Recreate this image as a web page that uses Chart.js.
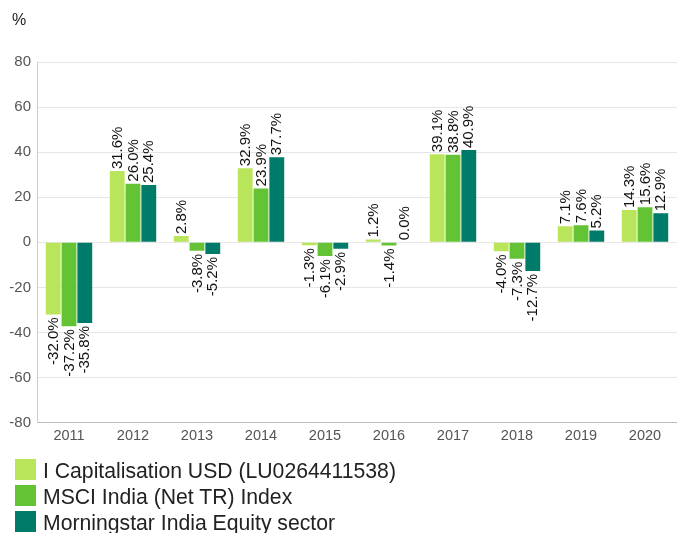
<!DOCTYPE html>
<html>
<head>
<meta charset="utf-8">
<script src="https://cdn.jsdelivr.net/npm/chart.js@4"></script>
<style>
  html, body { margin: 0; padding: 0; background: #fff; }
  #wrap { position: relative; width: 677px; height: 533px; overflow: hidden; }
  #unit { position: absolute; left: 12px; top: 11px; font: 16px "Liberation Sans", Arial, sans-serif; color: #222; }
  #legend { position: absolute; left: 15px; top: 458px; font: 21.2px "Liberation Sans", Arial, sans-serif; color: #222; }
  .row { position: relative; height: 26px; line-height: 26px; white-space: nowrap; }
  .box { position: absolute; left: 0; top: 1px; width: 21px; height: 21px; }
  .txt { position: absolute; left: 28px; top: 0; }
</style>
</head>
<body>
<div id="wrap">
  <canvas id="c" width="677" height="533"></canvas>
  <div id="unit">%</div>
  <div id="legend"></div>
</div>
<script>
const categories = ['2011','2012','2013','2014','2015','2016','2017','2018','2019','2020'];
const seriesNames = ['I Capitalisation USD (LU0264411538)', 'MSCI India (Net TR) Index', 'Morningstar India Equity sector'];
const fundValues = [-32.0, 31.6, 2.8, 32.9, -1.3, 1.2, 39.1, -4.0, 7.1, 14.3];
const indexValues = [-37.2, 26.0, -3.8, 23.9, -6.1, -1.4, 38.8, -7.3, 7.6, 15.6];
const sectorValues = [-35.8, 25.4, -5.2, 37.7, -2.9, 0.0, 40.9, -12.7, 5.2, 12.9];
const yTicks = [-80, -60, -40, -20, 0, 20, 40, 60, 80];

const colors = ['#b9e55b', '#63c334', '#007a69'];
const FONT = '"Liberation Sans", Arial, sans-serif';
Chart.defaults.font.family = FONT;

const valueLabels = {
  id: 'valueLabels',
  afterDatasetsDraw(chart) {
    const ctx = chart.ctx;
    chart.data.datasets.forEach((ds, i) => {
      const meta = chart.getDatasetMeta(i);
      meta.data.forEach((bar, j) => {
        const v = ds.data[j];
        const txt = v.toFixed(1) + '%';
        ctx.save();
        ctx.font = '15px ' + FONT;
        ctx.fillStyle = '#111';
        ctx.textBaseline = 'middle';
        if (v >= 0) {
          ctx.translate(bar.x + 0.5, bar.y - 2);
          ctx.rotate(-Math.PI / 2);
          ctx.textAlign = 'left';
        } else {
          ctx.translate(bar.x + 0.5, bar.y + 3);
          ctx.rotate(-Math.PI / 2);
          ctx.textAlign = 'right';
        }
        ctx.fillText(txt, 0, 0);
        ctx.restore();
      });
    });
  }
};

const datasets = [fundValues, indexValues, sectorValues].map((vals, i) => ({
  label: seriesNames[i],
  data: vals,
  backgroundColor: colors[i],
  borderWidth: 0,
  barPercentage: 0.94,
  categoryPercentage: 0.74
}));

new Chart(document.getElementById('c'), {
  type: 'bar',
  data: { labels: categories, datasets },
  options: {
    responsive: false,
    animation: false,
    devicePixelRatio: 1,
    layout: { padding: { top: 62, left: 0, right: 0, bottom: 83 } },
    plugins: {
      legend: { display: false },
      tooltip: { enabled: false }
    },
    scales: {
      x: {
        grid: { display: false, drawTicks: false },
        border: { color: '#bbbbbb', width: 1 },
        ticks: { color: '#555', font: { size: 14.5 }, padding: 5, maxRotation: 0 }
      },
      y: {
        min: -80, max: 80,
        afterFit(scale) { scale.width = 37; },
        afterBuildTicks(scale) { scale.ticks = yTicks.map(v => ({ value: v })); },
        grid: { color: '#e6e6e6', drawTicks: false },
        border: { color: '#cccccc', width: 1 },
        ticks: { color: '#555', font: { size: 15 }, padding: 6 }
      }
    }
  },
  plugins: [valueLabels]
});

const legend = document.getElementById('legend');
seriesNames.forEach((name, i) => {
  const row = document.createElement('div');
  row.className = 'row';
  const box = document.createElement('span');
  box.className = 'box';
  box.style.background = colors[i];
  const t = document.createElement('span');
  t.className = 'txt';
  t.textContent = name;
  row.appendChild(box);
  row.appendChild(t);
  legend.appendChild(row);
});
</script>
</body>
</html>
